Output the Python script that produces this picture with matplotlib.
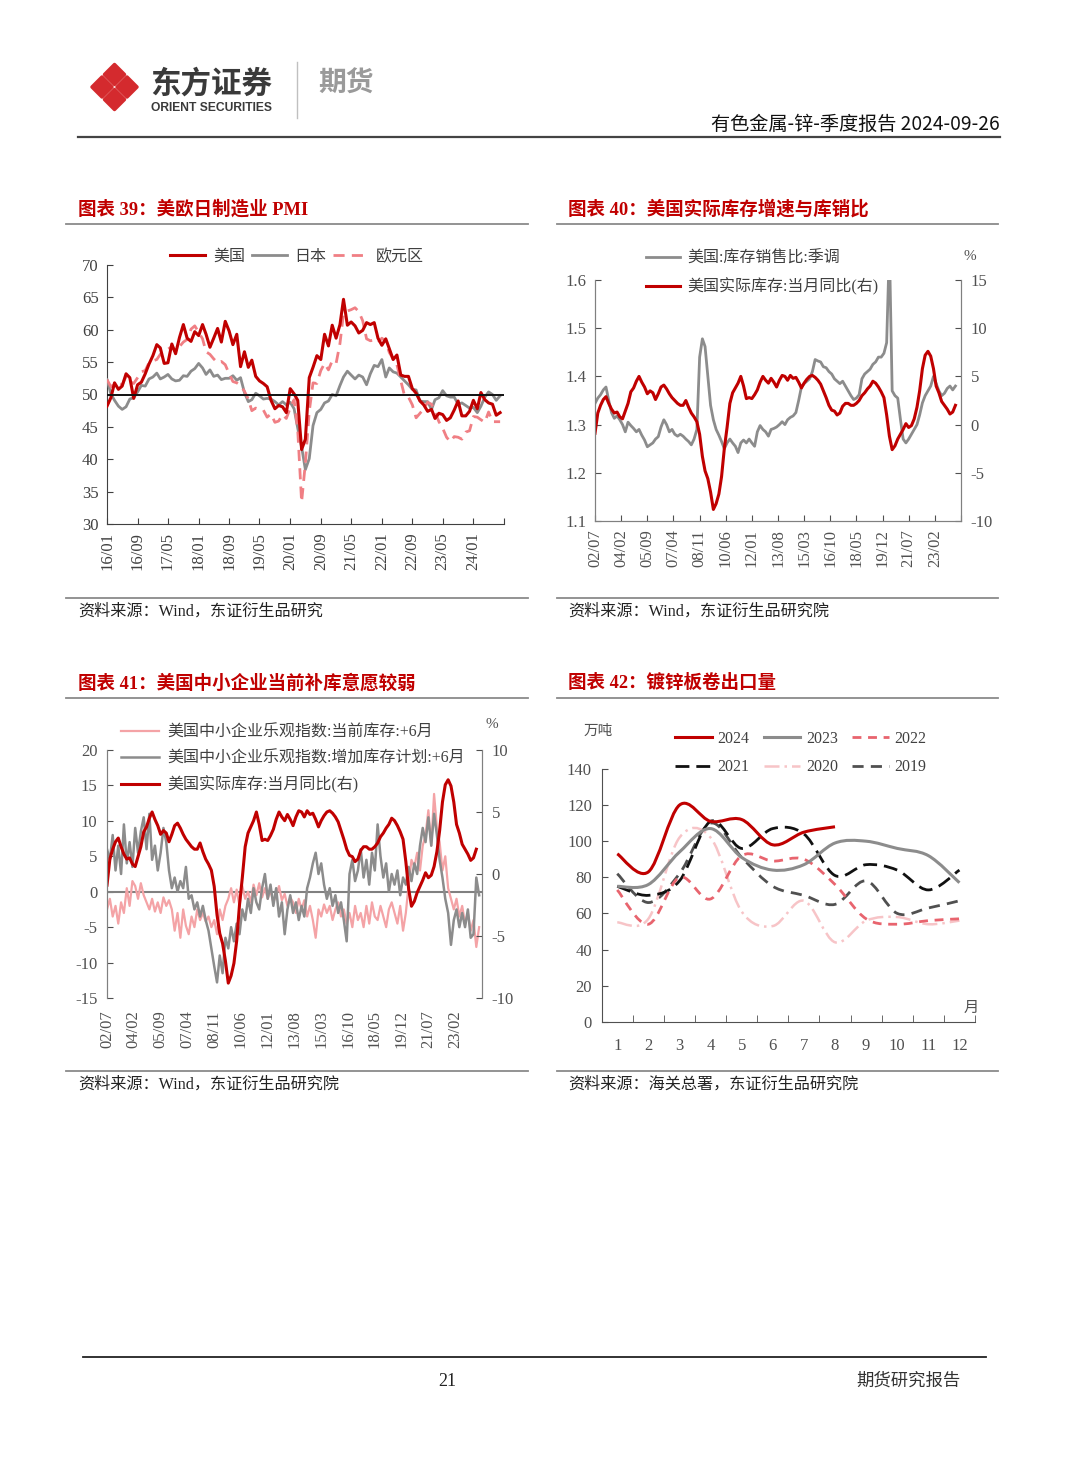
import matplotlib
matplotlib.use('agg')
import matplotlib.pyplot as plt
from matplotlib.lines import Line2D
from matplotlib.path import Path
from matplotlib.patches import PathPatch, Polygon
import numpy as np
import pandas as pd

# ---------------- data ----------------
# chart 39: manufacturing PMI, monthly from 2016/01
us_pmi = [48.2, 49.5, 51.8, 50.8, 51.3, 53.2, 52.6, 49.4, 51.5, 51.9, 53.2, 54.7,
          56.0, 57.7, 57.2, 54.8, 54.9, 57.8, 56.3, 58.8, 60.8, 58.7, 58.2, 59.7,
          59.1, 60.8, 59.3, 57.3, 58.7, 60.2, 58.1, 61.3, 59.8, 57.7, 59.3, 54.3,
          56.6, 54.2, 55.3, 52.8, 52.1, 51.7, 51.2, 49.1, 47.8, 48.3, 48.1, 47.2,
          50.9, 50.1, 49.1, 41.5, 43.1, 52.6, 54.2, 56.0, 55.4, 59.3, 57.5, 60.7,
          58.7, 60.8, 64.7, 60.7, 61.2, 60.6, 59.5, 59.9, 61.1, 60.8, 61.1, 58.7,
          57.6, 58.6, 57.1, 55.4, 56.1, 53.0, 52.8, 52.8, 50.9, 50.2, 49.0, 48.4,
          47.4, 47.7, 46.3, 47.1, 46.9, 46.0, 46.4, 47.6, 49.0, 46.7, 46.7, 47.4,
          49.1, 47.8, 50.3, 49.2, 48.7, 48.5, 46.8, 47.2]
jp_pmi = [52.3, 50.1, 49.1, 48.2, 47.7, 48.1, 49.3, 49.5, 50.4, 51.4, 51.3, 52.4,
          52.7, 53.3, 52.4, 52.7, 53.1, 52.4, 52.1, 52.2, 52.9, 52.8, 53.6, 54.0,
          54.8, 54.1, 53.1, 53.8, 52.8, 53.0, 52.3, 52.5, 52.5, 52.9, 52.2, 52.6,
          50.3, 48.9, 49.2, 50.2, 49.8, 49.3, 49.4, 49.3, 48.9, 48.4, 48.9, 48.4,
          48.8, 47.8, 44.8, 41.9, 38.4, 40.1, 45.2, 47.2, 47.7, 48.7, 49.0, 50.0,
          49.8, 51.4, 52.7, 53.6, 53.0, 52.4, 53.0, 52.7, 51.5, 53.2, 54.5, 54.3,
          55.4, 52.7, 54.1, 53.5, 53.3, 52.7, 52.1, 51.5, 50.8, 50.7, 49.0, 48.9,
          48.9, 47.7, 49.2, 49.5, 50.6, 49.8, 49.6, 49.6, 48.5, 48.7, 48.3, 47.9,
          48.0, 47.2, 48.2, 49.6, 50.4, 50.0, 49.1, 49.8]
ez_pmi = [52.3, 51.2, 51.6, 51.7, 51.5, 52.8, 52.0, 51.7, 52.6, 53.5, 53.7, 54.9,
          55.2, 55.4, 56.2, 56.7, 57.0, 57.4, 56.6, 57.4, 58.1, 58.5, 60.1, 60.6,
          59.6, 58.6, 56.6, 56.2, 55.5, 54.9, 55.1, 54.6, 53.2, 52.0, 51.8, 51.4,
          50.5, 49.3, 47.5, 47.9, 47.7, 47.6, 46.5, 47.0, 45.7, 45.9, 46.9, 46.3,
          47.9, 49.2, 44.5, 33.4, 39.4, 47.4, 51.8, 51.7, 53.7, 54.8, 53.8, 55.2,
          54.8, 57.9, 62.5, 62.9, 63.1, 63.4, 62.8, 61.4, 58.6, 58.3, 58.4, 58.0,
          58.7, 58.2, 56.5, 55.5, 54.6, 52.1, 49.8, 49.6, 48.4, 46.4, 47.1, 47.8,
          48.8, 48.5, 47.3, 45.8, 44.8, 43.4, 42.7, 43.5, 43.4, 43.1, 44.2, 44.4,
          46.6, 46.5, 46.1, 45.7, 47.3, 45.8, 45.8, 45.8]
pmi_ticks = ['16/01', '16/09', '17/05', '18/01', '18/09', '19/05', '20/01',
             '20/09', '21/05', '22/01', '22/09', '23/05', '24/01']

# charts 40/41: every two months from 2002/07
real_inv_yoy = [-0.9, 1.2, 2.0, 2.6, 2.9, 2.2, 1.6, 1.2, 1.3, 0.8,
                0.6, 1.4, 2.2, 3.4, 3.8, 4.5, 5.0, 4.4, 3.9, 3.2,
                3.5, 3.3, 2.6, 3.2, 3.9, 4.1, 3.7, 3.2, 2.8, 2.5,
                2.2, 2.0, 2.0, 2.5, 1.8, 1.2, 0.8, 0.3, -1.0, -3.3,
                -4.8, -5.6, -7.0, -8.8, -8.2, -7.2, -5.4, -2.5, -0.3, 2.2,
                3.3, 3.8, 4.3, 5.0, 4.0, 2.7, 2.8, 2.7, 3.1, 3.6,
                4.4, 5.0, 4.6, 4.3, 4.8, 4.4, 3.9, 4.6, 5.1, 5.0,
                4.6, 5.1, 4.8, 4.9, 4.4, 3.8, 4.3, 4.7, 5.0, 5.1,
                4.9, 4.6, 4.2, 3.5, 2.8, 2.0, 1.5, 1.4, 1.0, 1.2,
                1.9, 2.2, 2.2, 2.0, 2.0, 2.2, 2.5, 3.0, 3.3, 3.7,
                4.0, 4.5, 4.3, 3.9, 3.4, 2.8, 1.0, -1.2, -2.6, -2.2,
                -1.5, -1.0, -0.5, 0.1, -0.3, -0.1, 0.6, 1.8, 3.5, 5.8,
                7.2, 7.6, 7.1, 5.8, 4.0, 3.3, 2.4, 2.0, 1.6, 1.1,
                1.3, 2.0]
inv_sales_ratio = [1.344, 1.355, 1.362, 1.372, 1.378, 1.35, 1.325, 1.313, 1.318, 1.31,
                   1.30, 1.285, 1.305, 1.298, 1.292, 1.285, 1.29, 1.278, 1.268, 1.254,
                   1.258, 1.262, 1.27, 1.275, 1.295, 1.31, 1.30, 1.285, 1.29, 1.28,
                   1.276, 1.28, 1.276, 1.27, 1.265, 1.258, 1.27, 1.29, 1.44, 1.478,
                   1.462, 1.40, 1.34, 1.31, 1.29, 1.278, 1.265, 1.25, 1.262, 1.27,
                   1.262, 1.255, 1.242, 1.262, 1.268, 1.262, 1.27, 1.262, 1.255, 1.285,
                   1.298, 1.29, 1.285, 1.276, 1.29, 1.292, 1.295, 1.30, 1.306, 1.30,
                   1.31, 1.315, 1.318, 1.325, 1.35, 1.378, 1.385, 1.39, 1.395, 1.41,
                   1.435, 1.432, 1.43, 1.42, 1.418, 1.41, 1.405, 1.395, 1.39, 1.385,
                   1.39, 1.38, 1.37, 1.36, 1.352, 1.355, 1.362, 1.395, 1.405, 1.41,
                   1.415, 1.425, 1.43, 1.44, 1.44, 1.448, 1.47, 1.67, 1.37, 1.36,
                   1.355, 1.31, 1.27, 1.262, 1.27, 1.28, 1.29, 1.30, 1.32, 1.345,
                   1.36, 1.37, 1.38, 1.40, 1.385, 1.37, 1.36, 1.365, 1.375, 1.38,
                   1.372, 1.38]
nfib_current = [-2.5, -1.0, -3.5, -2.0, -4.5, -1.5, -3.0, 0.5, -2.0, 1.5, 0.8, -1.0,
                1.2, -0.5, -1.5, -2.5, -1.0, -2.8, -1.5, -3.0, -0.8, -2.0, -1.2, -2.5,
                -5.5, -3.0, -6.5, -2.5, -4.8, -6.0, -3.5, -5.0, -2.5, -4.0, -3.0, -4.2,
                -3.5, -5.0, -4.0, -6.0, -2.5, -4.0, -2.0, -1.0, 0.5, -1.5, 0.3, -2.0,
                0.8, -1.0, 0.0, -1.5, 1.0, -0.5, 1.2, -0.8, 0.5, -1.0, 0.2, -1.5,
                -0.5, 0.8, -1.2, -0.3, -2.0, -0.8, -1.5, -3.0, -1.0, -2.5, -1.2, -3.5,
                -2.0, -4.0, -6.5, -2.5, -3.5, -1.8, -3.0, -2.0, -4.0, -2.5, -1.5, -3.5,
                -2.5, -4.5, -3.0, -5.0, -2.0, -4.0, -3.0, -5.0, -2.0, -4.5, -1.5, -3.5,
                -4.0, -2.0, -3.5, -5.0, -2.5, -1.5, -3.0, -4.5, -2.0, -5.5, -3.0, 1.0,
                4.5, 3.5, 5.5, 3.0, 6.5, 8.0, 11.5, 6.5, 13.8, 9.0, 7.0, 3.0,
                5.0, 0.5, -1.0, -2.5, -1.0, -3.5, -2.0, -4.5, -3.0, -5.5, -4.0, -7.8, -5.0]
nfib_plan = [6.0, 4.5, 8.0, 3.0, 6.5, 2.5, 9.5, 4.0, 7.0, 3.5, 9.0, 5.5,
             8.5, 10.5, 6.0, 11.0, 4.5, 6.5, 3.0, 5.5, 9.0, 7.0, 3.0, 0.5,
             2.0, 0.0, 1.5, 0.5, 3.5, -1.0, -0.5, -2.5, -1.5, -3.5, -2.0, -4.0,
             -5.5, -8.0, -10.5, -12.8, -9.0, -11.5, -6.5, -8.0, -5.0, -7.0, -4.5, -6.0,
             -2.5, -4.0, -1.0, -3.0, 0.5, -1.5, -2.5, 0.5, 2.5, -1.0, 1.0, -2.0,
             0.5, -3.5, -1.5, -6.0, -2.5, -0.5, -3.0, -1.5, -4.0, -2.0, -3.5, 0.5,
             2.0, 4.0, 5.5, 2.5, 4.0, 1.0, -1.0, 0.5, -2.0, -0.5, -3.0, -1.5,
             -4.0, -7.0, 2.5, 4.5, 1.5, 3.0, 6.0, 2.0, 4.5, 1.0, 5.5, 3.0,
             9.5, 5.0, 2.0, 4.0, 0.0, 2.5, 1.0, 3.0, -0.5, 2.0, 1.0, 3.5,
             1.5, 4.0, 2.5, 6.5, 9.0, 7.0, 10.5, 6.5, 11.0, 8.0, 4.5, 2.0,
             -1.0, -3.0, -7.5, -4.0, -2.5, -5.0, -3.0, -5.0, -2.5, -6.5, -6.0, 2.0, -0.5]
inv_ticks = ['02/07', '04/02', '05/09', '07/04', '08/11', '10/06', '12/01',
             '13/08', '15/03', '16/10', '18/05', '19/12', '21/07', '23/02']

# chart 42: galvanized sheet exports, 10k t, by month
months = list(range(1, 13))
exp_2024 = [93, 83, 120, 111, 112, 98, 105, 108]
exp_2023 = [75, 76, 94, 107, 91, 84, 87, 99, 100, 96, 92, 77]
exp_2022 = [73, 54, 80, 68, 92, 89, 90, 76, 57, 54, 56, 57]
exp_2021 = [75, 70, 78, 111, 96, 107, 104, 81, 87, 84, 73, 84]
exp_2020 = [55, 57, 102, 102, 61, 53, 67, 44, 56, 58, 54, 56]
exp_2019 = [82, 66, 82, 110, 91, 75, 70, 65, 78, 60, 63, 67]

# ---------------- layout helpers ----------------
W, H = 1080, 1466
plt.rcParams['font.family'] = ['Liberation Serif', 'Noto Sans CJK SC', 'DejaVu Sans']
plt.rcParams['axes.unicode_minus'] = False
CJK = ['Noto Sans CJK SC', 'DejaVu Sans']
RED = '#c00000'


def rect(l, t, r, b):
    return [l / W, 1 - b / H, (r - l) / W, (b - t) / H]


def fpos(x, y):
    return (x / W, 1 - y / H)


def to_dates(labels):
    return pd.to_datetime(['20' + s for s in labels], format='%Y/%m')


def smooth_path(x, y):
    pts = np.column_stack([x, y]).astype(float)
    verts = [pts[0]]
    codes = [Path.MOVETO]
    for i in range(len(pts) - 1):
        p0 = pts[i - 1] if i > 0 else pts[i]
        p1, p2 = pts[i], pts[i + 1]
        p3 = pts[i + 2] if i + 2 < len(pts) else pts[i + 1]
        verts += [p1 + (p2 - p0) / 6, p2 - (p3 - p1) / 6, p2]
        codes += [Path.CURVE4] * 3
    return Path(verts, codes)


def chart_axes(l, t, r, b):
    a = fig.add_axes(rect(l, t, r, b))
    a.patch.set_visible(False)
    return a


fig = plt.figure(figsize=(W / 100, H / 100), dpi=100)
bg = fig.add_axes([0, 0, 1, 1])
bg.set_xlim(0, W)
bg.set_ylim(H, 0)
bg.axis('off')

# ---------------- page header ----------------
cx, cy, R = 114.5, 87, 25
d = R / 2 - 2.5
for ox, oy in [(0, -R / 2), (R / 2, 0), (0, R / 2), (-R / 2, 0)]:
    px, py = cx + ox, cy + oy
    bg.add_patch(Polygon([(px, py - d), (px + d, py), (px, py + d), (px - d, py)],
                         closed=True, facecolor='#d42a2e', edgecolor='#d42a2e', lw=2.5,
                         joinstyle='round'))
bg.text(150, 84, '东方证券', family=CJK, fontsize=22, weight='bold', color='#3a3a3a',
        va='center', ha='left')
bg.text(151, 108, 'ORIENT SECURITIES', family='Liberation Sans', fontsize=8.7, weight='bold',
        color='#3a3a3a', va='center', ha='left')
bg.plot([297, 297], [62, 118], color='#c0c0c0', lw=1)
bg.text(318, 84, '期货', family=CJK, fontsize=20, weight='bold', color='#9a9a9a',
        va='center', ha='left')
bg.text(1000, 124, '有色金属-锌-季度报告 2024-09-26', family=CJK, fontsize=13.8,
        color='#111111', va='center', ha='right')
bg.plot([78, 1000], [137, 137], color='#444444', lw=1.6)

# ---------------- chart frames ----------------
titles = [(78, 209, '图表 39：美欧日制造业 PMI'),
          (568, 209, '图表 40：美国实际库存增速与库销比'),
          (78, 683, '图表 41：美国中小企业当前补库意愿较弱'),
          (568, 683, '图表 42：镀锌板卷出口量')]
for x, y, t in titles:
    bg.text(x, y, t, fontsize=13.3, weight='bold', color=RED, va='center', ha='left')
for y in [224, 598, 698, 1071]:
    bg.plot([66, 528], [y, y], color='#8a8a8a', lw=1.3)
    bg.plot([557, 998], [y, y], color='#8a8a8a', lw=1.3)
sources = [(78, 612, '资料来源：Wind，东证衍生品研究'),
           (568, 612, '资料来源：Wind，东证衍生品研究院'),
           (78, 1085, '资料来源：Wind，东证衍生品研究院'),
           (568, 1085, '资料来源：海关总署，东证衍生品研究院')]
for x, y, t in sources:
    bg.text(x, y, t, fontsize=11.6, color='#222222', va='center', ha='left')

# ---------------- chart 39 ----------------
ax = chart_axes(107, 265, 504, 524)
dates39 = pd.date_range('2016-01-01', periods=len(us_pmi), freq='MS')
ax.plot(dates39, jp_pmi, color='#8c8c8c', lw=2.0, zorder=3)
ax.plot(dates39, ez_pmi, color='#f07f84', lw=2.0, ls=(0, (4, 2.6)), zorder=3)
ax.plot(dates39, us_pmi, color=RED, lw=2.2, zorder=4)
ax.axhline(50, color='#111111', lw=1.4, zorder=5)
ax.set_ylim(30, 70)
ax.set_yticks(range(30, 71, 5))
ax.set_xlim(pd.Timestamp('2016-01-01'), pd.Timestamp('2024-09-01'))
t39 = list(to_dates(pmi_ticks)) + [pd.Timestamp('2024-09-01')]
ax.set_xticks(t39)
ax.set_xticklabels(pmi_ticks + [''], rotation=90)
for s in ['top', 'right']:
    ax.spines[s].set_visible(False)
for s in ['left', 'bottom']:
    ax.spines[s].set_color('#404040')
ax.tick_params(direction='in', length=4, labelsize=12, colors='#404040', pad=6)
ax.legend(handles=[Line2D([], [], color=RED, lw=2.2),
                   Line2D([], [], color='#8c8c8c', lw=2.0),
                   Line2D([], [], color='#f07f84', lw=2.0, ls=(0, (4, 2.6)))],
          labels=['美国', '日本', '欧元区'], ncol=3, frameon=False, fontsize=11.5,
          loc='center left', bbox_to_anchor=fpos(170, 257), bbox_transform=fig.transFigure,
          borderpad=0, borderaxespad=0, handlelength=2.2, handletextpad=0.5,
          columnspacing=0.4, labelcolor='#404040')

# ---------------- chart 40 ----------------
dates_inv = pd.date_range('2002-07-01', periods=len(real_inv_yoy), freq='2MS')
ax = chart_axes(595, 280, 961, 521)
ax.plot(dates_inv, inv_sales_ratio, color='#8c8c8c', lw=2.0)
ax.set_ylim(1.1, 1.6)
ax.set_yticks(np.arange(1.1, 1.61, 0.1))
ax.set_yticklabels([f'{v:.1f}' for v in np.arange(1.1, 1.61, 0.1)])
ax.set_xlim(pd.Timestamp('2002-07-01'), pd.Timestamp('2024-09-01'))
t40 = list(to_dates(inv_ticks)) + [pd.Timestamp('2024-09-01')]
ax.set_xticks(t40)
ax.set_xticklabels(inv_ticks + [''], rotation=90)
ax.spines['top'].set_visible(False)
for s in ['left', 'bottom', 'right']:
    ax.spines[s].set_color('#808080')
ax.tick_params(direction='in', length=4, labelsize=12, colors='#505050', pad=6)
axr = ax.twinx()
axr.patch.set_visible(False)
axr.plot(dates_inv, real_inv_yoy, color=RED, lw=2.2)
axr.set_ylim(-10, 15)
axr.set_yticks(range(-10, 16, 5))
axr.spines['top'].set_visible(False)
for s in ['left', 'bottom', 'right']:
    axr.spines[s].set_color('#808080')
axr.tick_params(direction='in', length=4, labelsize=12, colors='#505050', pad=7)
bg.text(970, 257, '%', fontsize=11, color='#505050', va='center', ha='center')
axr.legend(handles=[Line2D([], [], color='#8c8c8c', lw=2.0), Line2D([], [], color=RED, lw=2.2)],
           labels=['美国:库存销售比:季调', '美国实际库存:当月同比(右)'], frameon=False,
           fontsize=11.5, loc='center left', bbox_to_anchor=fpos(646, 273),
           bbox_transform=fig.transFigure, borderpad=0, borderaxespad=0, handlelength=2.1,
           handletextpad=0.5, labelspacing=0.75, labelcolor='#404040')

# ---------------- chart 41 ----------------
dates_nfib = pd.date_range('2002-07-01', periods=len(nfib_plan), freq='2MS')
ax = chart_axes(107, 750, 482, 998)
ax.plot(dates_nfib, nfib_current, color='#f4a3a6', lw=1.6, zorder=3)
ax.plot(dates_nfib, nfib_plan, color='#8c8c8c', lw=1.8, zorder=3)
ax.axhline(0, color='#808080', lw=1.5, zorder=2)
ax.set_ylim(-15, 20)
ax.set_yticks(range(-15, 21, 5))
ax.set_xlim(pd.Timestamp('2002-07-01'), pd.Timestamp('2024-09-01'))
ax.set_xticks(to_dates(inv_ticks))
ax.set_xticklabels(inv_ticks, rotation=90)
for s in ['top', 'bottom']:
    ax.spines[s].set_visible(False)
for s in ['left', 'right']:
    ax.spines[s].set_color('#808080')
ax.tick_params(axis='y', direction='in', length=4, labelsize=12, colors='#505050', pad=7)
ax.tick_params(axis='x', length=0, labelsize=12, colors='#505050', pad=9)
axr = ax.twinx()
axr.patch.set_visible(False)
axr.plot(dates_inv, real_inv_yoy, color=RED, lw=2.2)
axr.set_ylim(-10, 10)
axr.set_yticks(range(-10, 11, 5))
for s in ['top', 'bottom']:
    axr.spines[s].set_visible(False)
for s in ['left', 'right']:
    axr.spines[s].set_color('#808080')
axr.tick_params(direction='in', length=4, labelsize=12, colors='#505050', pad=7)
bg.text(492, 724, '%', fontsize=11, color='#505050', va='center', ha='center')
axr.legend(handles=[Line2D([], [], color='#f4a3a6', lw=1.6), Line2D([], [], color='#8c8c8c', lw=1.8),
                    Line2D([], [], color=RED, lw=2.2)],
           labels=['美国中小企业乐观指数:当前库存:+6月', '美国中小企业乐观指数:增加库存计划:+6月',
                   '美国实际库存:当月同比(右)'],
           frameon=False, fontsize=11.5, loc='center left', bbox_to_anchor=fpos(121, 759),
           bbox_transform=fig.transFigure, borderpad=0, borderaxespad=0, handlelength=2.4,
           handletextpad=0.5, labelspacing=0.6, labelcolor='#404040')

# ---------------- chart 42 ----------------
ax = chart_axes(601.7, 769, 975, 1021.7)
styles = [(exp_2024, '2024', RED, '-', 2.2),
          (exp_2023, '2023', '#8c8c8c', '-', 2.2),
          (exp_2022, '2022', '#e8646e', (0, (3.2, 2.4)), 2.0),
          (exp_2021, '2021', '#111111', (0, (5, 2.5)), 2.0),
          (exp_2020, '2020', '#f7c4c7', (0, (6, 2, 1, 2)), 1.8),
          (exp_2019, '2019', '#505050', (0, (4, 2.6)), 2.0)]
handles = {}
for vals, name, col, ls, lw in styles[::-1]:
    path = smooth_path(months[:len(vals)], vals)
    ax.add_patch(PathPatch(path, fill=False, edgecolor=col, lw=lw, linestyle=ls,
                           capstyle='butt', zorder=3))
    handles[name] = Line2D([], [], color=col, lw=lw, ls=ls)
ax.set_xlim(0.5, 12.5)
ax.set_ylim(0, 140)
ax.set_yticks(range(0, 141, 20))
ax.set_xticks(months)
ax.set_xticks(np.arange(0.5, 13, 1), minor=True)
for s in ['top', 'right']:
    ax.spines[s].set_visible(False)
for s in ['left', 'bottom']:
    ax.spines[s].set_color('#505050')
ax.tick_params(axis='y', direction='in', length=4, labelsize=12, colors='#505050', pad=7)
ax.tick_params(axis='x', which='major', length=0, labelsize=12, colors='#505050', pad=12)
ax.tick_params(axis='x', which='minor', direction='in', length=5, color='#505050')
bg.text(598, 731, '万吨', family=CJK, fontsize=10.5, color='#505050', va='center', ha='center')
bg.text(971, 1007, '月', family=CJK, fontsize=11, color='#505050', va='center', ha='center')
order = ['2024', '2021', '2023', '2020', '2022', '2019']
ax.legend(handles=[handles[k] for k in order], labels=order, ncol=3, frameon=False,
          fontsize=11.5, loc='center left', bbox_to_anchor=fpos(675, 753),
          bbox_transform=fig.transFigure, borderpad=0, borderaxespad=0, handlelength=2.3,
          handletextpad=0.35, columnspacing=0.9, labelspacing=0.8, labelcolor='#404040')

# ---------------- footer ----------------
bg.plot([83, 986], [1357, 1357], color='#222222', lw=1.3)
bg.text(447, 1381, '21', fontsize=13, color='#222222', va='center', ha='center')
bg.text(961, 1381, '期货研究报告', family=CJK, fontsize=12.5, color='#333333',
        va='center', ha='right')

fig.savefig('out.png', dpi=100)
